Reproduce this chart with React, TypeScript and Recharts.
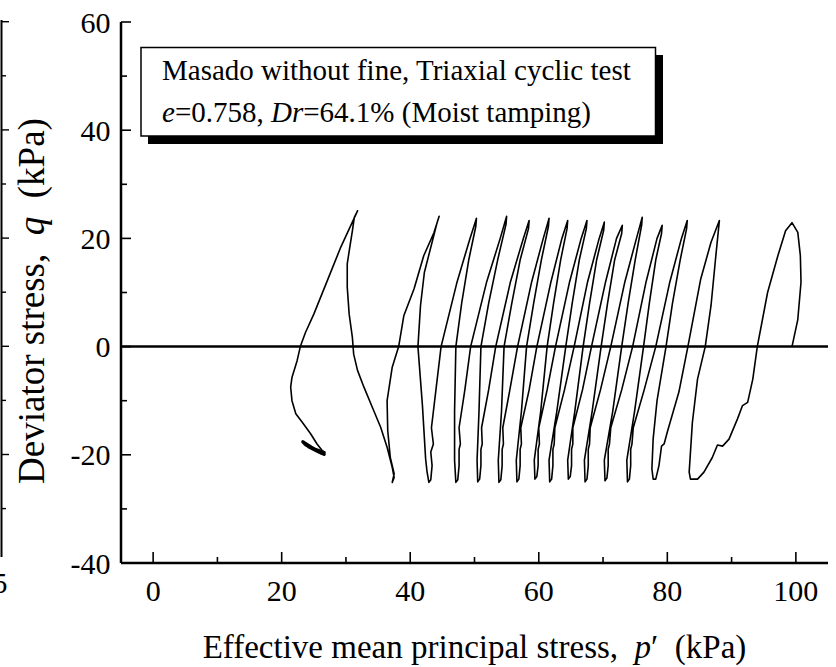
import React from "react";
import { ComposedChart, Line, XAxis, YAxis, ReferenceLine } from "recharts";

const FONT = '"Liberation Serif", "Times New Roman", serif';

// axis ticks (every 10, labels every 20)
const xTicks = [0, 10, 20, 30, 40, 50, 60, 70, 80, 90, 100];
const yTicks = [-40, -30, -20, -10, 0, 10, 20, 30, 40, 50, 60];

// stress path [p', q], in time order
const firstLoading: [number, number][] = [
  [99.4, 0], [100.3, 5.0], [100.8, 11.9], [100.7, 16.8], [100.3, 21.1], [99.4, 22.9],
  [98.4, 21.4], [97.2, 16.8], [95.6, 10.0], [94.0, 0], [93.3, -6.0], [92.5, -10.3],
  [91.7, -10.9], [90.9, -13.4], [89.6, -17.1], [88.6, -18.4], [87.8, -18.2], [87.0, -20.5],
  [85.7, -23.2], [84.7, -24.5], [83.6, -24.5],
];

const cyclesHigh: [number, number][] = [
  [83.4, -23.2], [83.9, -14.0], [84.7, -6.0], [85.9, 0], [86.8, 7.6], [87.5, 16.2], [88.1, 23.3],
  [86.8, 19.3], [85.2, 12.5], [83.2, 0], [81.8, -8.4], [80.0, -15.8], [79.5, -18.0], [79.1, -18.4],
  [78.7, -22.0], [78.2, -24.5], [77.8, -24.5],
  [77.6, -22.6], [77.8, -17.0], [78.4, -10.0], [79.8, 0], [80.8, 8.0], [82.0, 16.0], [83.0, 21.8], [83.1, 23.3],
  [82.2, 20], [80.4, 12], [78.2, 0], [76.4, -8], [74.7, -15], [74.5, -18], [74.3, -19], [74.3, -22],
  [74.1, -24.5], [73.8, -25.0],
  [73.7, -21], [74.9, -12], [76.3, 0], [77.2, 8], [78.2, 16], [79.1, 20.9], [79.2, 22.4],
  [78.4, 20], [76.7, 12], [74.6, 0], [72.9, -8], [71.2, -15], [71.0, -18], [70.8, -19], [70.8, -22],
  [70.6, -24.3], [70.3, -24.8],
  [70.2, -21], [71.5, -12], [72.9, 0], [73.9, 8], [75.0, 16], [76.0, 22.4], [76.1, 23.9],
  [75.2, 20], [73.4, 12], [71.2, 0], [69.6, -8], [68.0, -15], [67.9, -18], [67.7, -19], [67.7, -22],
  [67.5, -24.5], [67.2, -25.0],
];

const cyclesMid: [number, number][] = [
  [67.1, -21], [68.3, -12], [69.7, 0], [70.7, 8], [71.8, 16], [72.9, 20.9], [73.0, 22.4],
  [72.1, 20], [70.4, 12], [68.2, 0], [66.8, -8], [65.3, -15], [65.3, -18], [65.1, -19], [65.1, -22],
  [64.9, -24], [64.6, -24.5],
  [64.5, -21], [65.6, -12], [66.9, 0], [67.9, 8], [69.0, 16], [70.1, 21.5], [70.2, 23.0],
  [69.4, 20], [67.6, 12], [65.5, 0], [64.0, -8], [62.5, -15], [62.4, -18], [62.2, -19], [62.2, -22],
  [62.0, -24.5], [61.7, -25.0],
  [61.6, -21], [62.8, -12], [64.2, 0], [65.2, 8], [66.3, 16], [67.4, 21.8], [67.5, 23.3],
  [66.6, 20], [64.8, 12], [62.6, 0], [61.3, -8], [60.0, -15], [60.1, -18], [59.9, -19], [59.9, -22],
  [59.7, -24], [59.4, -24.5],
  [59.3, -21], [60.3, -12], [61.3, 0], [62.3, 8], [63.4, 16], [64.4, 21.8], [64.5, 23.3],
  [63.6, 20], [61.9, 12], [59.7, 0], [58.5, -8], [57.2, -15], [57.3, -18], [57.1, -19], [57.1, -22],
  [56.9, -24.5], [56.6, -25.0],
];

const cyclesLow: [number, number][] = [
  [56.5, -21], [57.3, -12], [58.1, 0], [59.2, 8], [60.4, 16], [61.5, 22.2], [61.6, 23.7],
  [60.7, 20], [58.9, 12], [56.7, 0], [55.5, -8], [54.4, -15], [54.5, -18], [54.3, -19], [54.3, -22],
  [54.1, -24.6], [53.8, -25.1],
  [53.7, -21], [54.2, -12], [54.6, 0], [55.8, 8], [57.1, 16], [58.4, 21.8], [58.5, 23.3],
  [57.6, 20], [55.6, 12], [53.3, 0], [52.2, -8], [51.1, -15], [51.2, -18], [51.0, -19], [51.0, -22],
  [50.8, -24.5], [50.5, -25.0],
  [50.4, -21], [50.7, -12], [51.0, 0], [52.2, 8], [53.6, 16], [54.9, 22.6], [55.0, 24.1],
  [54.0, 20], [51.9, 12], [49.4, 0], [48.5, -8], [47.6, -15], [47.8, -18], [47.6, -19], [47.6, -22],
  [47.4, -24.6], [47.1, -25.1],
  [46.9, -21], [46.9, -12], [47.1, 0], [48.0, 8], [49.1, 16], [50.2, 22.2], [50.3, 23.7],
  [49.3, 20], [47.3, 12], [44.8, 0], [44.0, -8], [43.3, -15], [43.6, -18], [43.2, -19.5], [43.4, -22],
  [43.2, -24.6], [42.9, -25.1],
  [42.6, -23], [42.4, -20.8], [41.9, -10.9], [41.2, 0], [41.6, 7.6], [42.2, 13.7], [43.4, 19.3],
  [44.2, 23.0], [44.5, 24.1],
  [43.7, 21.1], [42.1, 16.8], [40.6, 10.7], [39.0, 5.7], [38.2, 0], [37.2, -3.8], [36.4, -10.0],
  [36.5, -15.5], [36.9, -20.5], [37.5, -23.5], [37.2, -25.1],
];

const finalCollapse: [number, number][] = [
  [37.5, -24.2], [37.2, -22.3], [36.4, -18.6], [35.4, -14.9], [34.1, -11.2], [32.8, -7.5],
  [31.8, -4.4], [31.2, -1.4], [31.0, 1.7], [30.5, 6.0], [30.2, 11.0], [30.2, 15.3], [30.6, 18.4],
  [31.0, 21.4], [31.3, 23.9], [31.8, 25.1],
  [29.2, 18.4], [27.1, 12.2], [25.0, 6.0], [23.7, 2.6], [22.9, 0], [22.4, -2.6], [21.6, -5.7],
  [21.4, -7.5], [21.6, -10.0], [22.2, -12.4], [23.4, -14.3], [24.5, -16.1], [25.5, -18.0],
  [26.3, -19.2], [26.6, -19.6],
];

// dense cycling at the end of the test (drawn as a thick smudge)
const endBlob: [number, number][] = [
  [26.6, -19.6], [25.2, -19.0], [23.8, -18.2], [23.3, -17.6], [24.6, -18.6], [26.2, -19.7],
  [26.6, -19.9], [25.0, -18.9], [23.6, -18.0], [24.2, -18.5], [25.8, -19.5],
];

const toPoints = (arr: [number, number][]) => arr.map(([p, q]) => ({ p, q }));
const path = toPoints([...firstLoading, ...cyclesHigh, ...cyclesMid, ...cyclesLow, ...finalCollapse]);
const blob = toPoints(endBlob);

const BottomTick = ({ x, y, payload }: any) => {
  const major = payload.value % 20 === 0;
  return (
    <g>
      <line x1={x} x2={x} y1={y} y2={y - (major ? 11 : 6)} stroke="#000" strokeWidth={1.6} />
      {major && (
        <text x={x} y={y + 38} textAnchor="middle" fontSize={30} fontFamily={FONT} fill="#000">
          {payload.value}
        </text>
      )}
    </g>
  );
};

const TopTick = ({ x, y, payload }: any) => {
  const major = payload.value % 20 === 0;
  return <line x1={x} x2={x} y1={y} y2={y + (major ? 11 : 6)} stroke="#000" strokeWidth={1.6} />;
};

const LeftTick = ({ x, y, payload }: any) => {
  const major = payload.value % 20 === 0;
  return (
    <g>
      <line x1={x} x2={x + (major ? 10 : 6)} y1={y} y2={y} stroke="#000" strokeWidth={1.6} />
      {major && (
        <text x={x - 10.5} y={y + 10.5} textAnchor="end" fontSize={30} fontFamily={FONT} fill="#000">
          {payload.value}
        </text>
      )}
    </g>
  );
};

const RightTick = ({ x, y, payload }: any) => {
  const major = payload.value % 20 === 0;
  return <line x1={x} x2={x - (major ? 10 : 6)} y1={y} y2={y} stroke="#000" strokeWidth={1.6} />;
};

const axisLine = { stroke: "#000", strokeWidth: 2.5 };

export default function App() {
  return (
    <div style={{ position: "absolute", left: 0, top: 0, width: 836, height: 667, background: "#fff" }}>
      <ComposedChart width={836} height={667} margin={{ top: 22, right: 8, bottom: 0, left: 0 }}>
        <XAxis
          xAxisId="b"
          type="number"
          dataKey="p"
          domain={[-5, 105]}
          ticks={xTicks}
          interval={0}
          tickLine={false}
          tickSize={0}
          tickMargin={0}
          tick={<BottomTick />}
          axisLine={axisLine}
          height={104}
          allowDataOverflow
        />
        <XAxis
          xAxisId="t"
          orientation="top"
          type="number"
          dataKey="p"
          domain={[-5, 105]}
          ticks={xTicks}
          interval={0}
          tickLine={false}
          tickSize={0}
          tickMargin={0}
          tick={<TopTick />}
          axisLine={axisLine}
          height={0}
          allowDataOverflow
        />
        <YAxis
          yAxisId="l"
          type="number"
          domain={[-40, 60]}
          ticks={yTicks}
          interval={0}
          tickLine={false}
          tickSize={0}
          tickMargin={0}
          tick={<LeftTick />}
          axisLine={axisLine}
          width={121}
          allowDataOverflow
        />
        <YAxis
          yAxisId="r"
          orientation="right"
          type="number"
          domain={[-40, 60]}
          ticks={yTicks}
          interval={0}
          tickLine={false}
          tickSize={0}
          tickMargin={0}
          tick={<RightTick />}
          axisLine={axisLine}
          width={0}
          allowDataOverflow
        />
        <ReferenceLine xAxisId="b" yAxisId="l" y={0} stroke="#000" strokeWidth={2.5} />
        <Line
          xAxisId="b"
          yAxisId="l"
          data={path}
          dataKey="q"
          type="linear"
          stroke="#000"
          strokeWidth={1.6}
          strokeLinejoin="round"
          dot={false}
          activeDot={false}
          isAnimationActive={false}
        />
        <Line
          xAxisId="b"
          yAxisId="l"
          data={blob}
          dataKey="q"
          type="linear"
          stroke="#000"
          strokeWidth={3.4}
          strokeLinejoin="round"
          strokeLinecap="round"
          dot={false}
          activeDot={false}
          isAnimationActive={false}
        />
      </ComposedChart>

      <svg
        width={836}
        height={667}
        style={{ position: "absolute", left: 0, top: 0, pointerEvents: "none" }}
        fontFamily={FONT}
      >
        {/* fragment of the neighbouring panel */}
        <line x1={1.5} x2={1.5} y1={20} y2={557} stroke="#000" strokeWidth={2} />
        {yTicks.slice(1).map((v, i) => (
          <line key={v} x1={1.5} x2={i % 2 === 0 ? 6 : 9} y1={562.7 - (i + 1) * 54.1} y2={562.7 - (i + 1) * 54.1} stroke="#000" strokeWidth={1.4} />
        ))}
        <text x={-7.5} y={593} fontSize={30} fill="#000">5</text>

        {/* annotation box */}
        <rect x={148} y={55} width={515} height={89} fill="#000" />
        <rect x={141} y={47.5} width={514.5} height={88.5} fill="#fff" stroke="#000" strokeWidth={1.5} />
        <text x={162} y={79.5} fontSize={29} fill="#000">
          Masado without fine, Triaxial cyclic test
        </text>
        <text x={162} y={121.7} fontSize={29} fill="#000">
          <tspan fontStyle="italic">e</tspan>=0.758, <tspan fontStyle="italic">Dr</tspan>=64.1% (Moist tamping)
        </text>

        {/* axis titles */}
        <text x={474.5} y={658} textAnchor="middle" fontSize={33} fill="#000" style={{ whiteSpace: "pre" }}>
          Effective mean principal stress,  <tspan fontStyle="italic">p</tspan>′  (kPa)
        </text>
        <text
          transform="translate(44,301) rotate(-90)"
          textAnchor="middle"
          fontSize={37}
          fill="#000"
          style={{ whiteSpace: "pre" }}
        >
          Deviator stress,  <tspan fontStyle="italic">q</tspan>  (kPa)
        </text>
      </svg>
    </div>
  );
}
